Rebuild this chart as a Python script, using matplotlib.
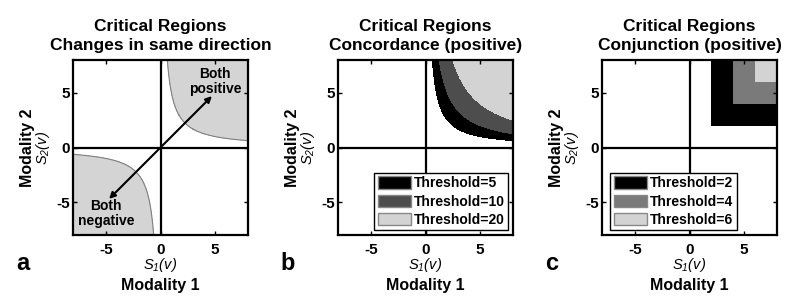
import numpy as np
import matplotlib
matplotlib.use("Agg")
import matplotlib.pyplot as plt
from matplotlib.patches import Patch

plt.rcParams.update({
    "font.family": ["Liberation Sans", "DejaVu Sans"],
    "font.weight": "bold",
    "axes.unicode_minus": False,
    "mathtext.fontset": "custom",
    "mathtext.it": "Liberation Sans:style=italic:weight=normal",
    "mathtext.rm": "Liberation Sans:style=italic:weight=normal",
    "mathtext.bf": "Liberation Sans:bold",
})

LIM = 8
TICKS = [-5, 0, 5]

# panel a: both statistics beyond threshold, same sign
thr_a = 5
fill_a = "#d4d4d4"
arrow_end = 4.7
note_pos = (5, 6)
note_neg = (-5, -6)

# panel b: concordance thresholds (positive quadrant)
thr_b = [5, 10, 20]
colors_b = ["#000000", "#4d4d4d", "#d3d3d3"]

# panel c: conjunction thresholds (positive quadrant)
thr_c = [2, 4, 6]
colors_c = ["#000000", "#7a7a7a", "#d3d3d3"]

titles = ["Critical Regions\nChanges in same direction",
          "Critical Regions\nConcordance (positive)",
          "Critical Regions\nConjunction (positive)"]
letters = ["a", "b", "c"]

W, H = 800, 302
lefts_px = [73, 338, 602]
top_px, size_px = 60, 175

s = np.linspace(-LIM, LIM, 1201)
S1, S2 = np.meshgrid(s, s)
prod = S1 * S2
pos = (S1 > 0) & (S2 > 0)


def style_axes(ax, title):
    ax.set_xlim(-LIM, LIM)
    ax.set_ylim(-LIM, LIM)
    ax.set_xticks(TICKS)
    ax.set_yticks(TICKS)
    ax.axhline(0, color="k", lw=1.6, zorder=3)
    ax.axvline(0, color="k", lw=1.6, zorder=3)
    ax.tick_params(direction="in", length=3, width=1, top=True, right=True,
                   labelsize=11)
    ax.tick_params(axis="x", pad=6)
    ax.tick_params(axis="y", pad=2)
    for sp in ax.spines.values():
        sp.set_linewidth(1.6)
        sp.set_zorder(4)
    ax.set_title(title, fontsize=12.5, fontweight="bold", pad=7, linespacing=1.35)
    ax.text(0.5, -0.171, r"$S_1(v)$", transform=ax.transAxes, ha="center",
            va="center", fontsize=10.5)
    ax.text(0.5, -0.29, "Modality 1", transform=ax.transAxes, ha="center",
            va="center", fontsize=11.5, fontweight="bold")
    ax.text(-0.172, 0.5, r"$S_2(v)$", transform=ax.transAxes, ha="center",
            va="center", fontsize=10.5, rotation=90)
    ax.text(-0.258, 0.5, "Modality 2", transform=ax.transAxes, ha="center",
            va="center", fontsize=11.5, fontweight="bold", rotation=90)


fig = plt.figure(figsize=(W / 100, H / 100), dpi=100)
axes = []
for lp in lefts_px:
    axes.append(fig.add_axes([lp / W, (H - top_px - size_px) / H, size_px / W, size_px / H]))

# a
ax = axes[0]
ax.contourf(S1, S2, prod, levels=[thr_a, prod.max() + 1], colors=[fill_a])
ax.contour(S1, S2, prod, levels=[thr_a], colors="#808080", linewidths=0.8)
ax.annotate("", xy=(arrow_end, arrow_end), xytext=(-arrow_end, -arrow_end),
            arrowprops=dict(arrowstyle="<|-|>", color="k", lw=1.5,
                            mutation_scale=9, shrinkA=0, shrinkB=0), zorder=5)
ax.text(*note_pos, "Both\npositive", ha="center", va="center", fontsize=10,
        fontweight="bold", linespacing=1.1, zorder=6)
ax.text(*note_neg, "Both\nnegative", ha="center", va="center", fontsize=10,
        fontweight="bold", linespacing=1.1, zorder=6)
style_axes(ax, titles[0])

# b
ax = axes[1]
conc = np.where(pos, prod, 0)
ax.contourf(S1, S2, conc, levels=thr_b + [conc.max() + 1], colors=colors_b)
handles = [Patch(facecolor=c, edgecolor="#888888", label=f"Threshold={t}")
           for t, c in zip(thr_b, colors_b)]
ax.legend(handles=handles, loc="lower right", fontsize=10, frameon=True,
          fancybox=False, edgecolor="k", framealpha=1, handlelength=2.4,
          handleheight=1.0, labelspacing=0.3, borderpad=0.25, handletextpad=0.2,
          borderaxespad=0.35).get_frame().set_linewidth(1.0)
style_axes(ax, titles[1])

# c
ax = axes[2]
conj = np.minimum(S1, S2)
ax.contourf(S1, S2, conj, levels=thr_c + [LIM + 1], colors=colors_c)
handles = [Patch(facecolor=c, edgecolor="#888888", label=f"Threshold={t}")
           for t, c in zip(thr_c, colors_c)]
ax.legend(handles=handles, loc="lower left", fontsize=10, frameon=True,
          fancybox=False, edgecolor="k", framealpha=1, handlelength=2.4,
          handleheight=1.0, labelspacing=0.3, borderpad=0.25, handletextpad=0.2,
          borderaxespad=0.35, bbox_to_anchor=(0.02, 0.0, 1, 1)).get_frame().set_linewidth(1.0)
style_axes(ax, titles[2])

for lp, letter in zip(lefts_px, letters):
    fig.text((lp - 50) / W, 1 - 263 / H, letter, fontsize=17, fontweight="bold",
             ha="center", va="center")

fig.savefig("out.png", dpi=100)
